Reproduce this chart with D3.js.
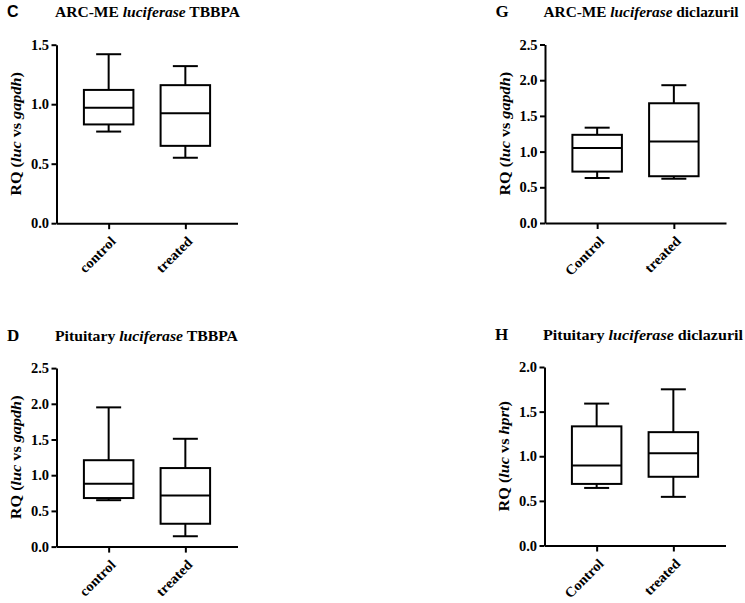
<!DOCTYPE html>
<html><head><meta charset="utf-8">
<script src="https://cdn.jsdelivr.net/npm/d3@7"></script>
<style>
body{margin:0;background:#fff}
svg{display:block;background:#fff}
text{font-family:"Liberation Serif","Times New Roman",serif;font-weight:bold;fill:#000}
</style>
</head><body>
<svg id="chart" width="745" height="603"></svg>
<script>
// ---- data ----
const panelLetters   = ["C", "G", "D", "H"];
const panelTissues   = ["ARC-ME", "ARC-ME", "Pituitary", "Pituitary"];
const panelCompounds = ["TBBPA", "diclazuril", "TBBPA", "diclazuril"];
const refGenes       = ["gapdh", "gapdh", "gapdh", "hprt"];
const categoriesCD   = ["control", "treated"];
const categoriesGH   = ["Control", "treated"];
const panelCategories = [categoriesCD, categoriesGH, categoriesCD, categoriesGH];
const yMaxes   = [1.5, 2.5, 2.5, 2.0];
const yTicks   = [[0, 0.5, 1.0, 1.5], [0, 0.5, 1.0, 1.5, 2.0, 2.5], [0, 0.5, 1.0, 1.5, 2.0, 2.5], [0, 0.5, 1.0, 1.5, 2.0]];
// per panel: [control, treated]
const whiskerLow  = [[0.77, 0.55], [0.63, 0.62], [0.65, 0.145], [0.645, 0.545]];
const quartile1   = [[0.83, 0.65], [0.72, 0.655], [0.68, 0.32], [0.69, 0.77]];
const medians     = [[0.97, 0.925], [1.05, 1.143], [0.88, 0.715], [0.895, 1.035]];
const quartile3   = [[1.12, 1.16], [1.235, 1.677], [1.21, 1.10], [1.335, 1.27]];
const whiskerHigh = [[1.42, 1.32], [1.335, 1.93], [1.95, 1.51], [1.59, 1.75]];

// ---- layout ----
const origins = [[56.5, 44.7], [545, 44.5], [56.5, 368.1], [544.5, 367]];
const titleWidths = [185, 195, 183, 200];
const plotW = 181, plotH = 178.5;
const boxW = 49.5, capW = 25, lw = 2;

const svg = d3.select("#chart");

panelLetters.forEach((letter, i) => {
  const [x0, y0] = origins[i];
  const g = svg.append("g").attr("transform", `translate(${x0},${y0})`);
  const x = d3.scalePoint().domain(panelCategories[i]).range([0, plotW]).padding(0.68);
  const y = d3.scaleLinear().domain([0, yMaxes[i]]).range([plotH, 0]);

  // y axis
  const ya = g.append("g").call(d3.axisLeft(y).tickValues(yTicks[i]).tickFormat(d3.format(".1f")).tickSize(5).tickSizeOuter(0).tickPadding(2.5));
  ya.select(".domain").attr("stroke-width", lw).attr("stroke", "#000");
  ya.selectAll(".tick line").attr("stroke-width", lw).attr("stroke", "#000");
  ya.selectAll(".tick text").style("font-size", "14.5px").style("font-family", "Liberation Serif").style("font-weight", "bold").attr("fill", "#000");

  // x axis
  const xa = g.append("g").attr("transform", `translate(0,${plotH})`)
    .call(d3.axisBottom(x).tickSize(6).tickSizeOuter(0));
  xa.select(".domain").attr("stroke-width", lw).attr("stroke", "#000");
  xa.selectAll(".tick line").attr("stroke-width", lw).attr("stroke", "#000");
  xa.selectAll(".tick text")
    .attr("x", 0).attr("y", 0).attr("dy", 0)
    .attr("transform", "translate(7.5,19) rotate(-45)")
    .style("text-anchor", "end")
    .style("font-size", "14px").style("font-family", "Liberation Serif").style("font-weight", "bold")
    .attr("fill", "#000")
    .each(function () { const t = this; t.setAttribute("textLength", t.getComputedTextLength() * 1.05); t.setAttribute("lengthAdjust", "spacingAndGlyphs"); });

  // boxes
  panelCategories[i].forEach((cat, j) => {
    const cx = x(cat);
    const lo = whiskerLow[i][j], q1 = quartile1[i][j], md = medians[i][j], q3 = quartile3[i][j], hi = whiskerHigh[i][j];
    const bg = g.append("g").attr("stroke", "#000").attr("stroke-width", lw).attr("fill", "none");
    bg.append("line").attr("x1", cx).attr("x2", cx).attr("y1", y(hi)).attr("y2", y(q3));
    bg.append("line").attr("x1", cx).attr("x2", cx).attr("y1", y(q1)).attr("y2", y(lo));
    bg.append("line").attr("x1", cx - capW / 2).attr("x2", cx + capW / 2).attr("y1", y(hi)).attr("y2", y(hi));
    bg.append("line").attr("x1", cx - capW / 2).attr("x2", cx + capW / 2).attr("y1", y(lo)).attr("y2", y(lo));
    bg.append("rect").attr("x", cx - boxW / 2).attr("width", boxW).attr("y", y(q3)).attr("height", y(q1) - y(q3)).attr("fill", "#fff");
    bg.append("line").attr("x1", cx - boxW / 2).attr("x2", cx + boxW / 2).attr("y1", y(md)).attr("y2", y(md));
  });

  // y label
  const yl = g.append("text")
    .attr("transform", `translate(-35.5,${plotH / 2}) rotate(-90)`)
    .attr("text-anchor", "middle")
    .style("font-size", "15px");
  yl.append("tspan").text("RQ (");
  yl.append("tspan").style("font-style", "italic").text("luc");
  yl.append("tspan").text(" vs ");
  yl.append("tspan").style("font-style", "italic").text(refGenes[i]);
  yl.append("tspan").text(")");
  yl.attr("textLength", yl.node().getComputedTextLength() * 1.08).attr("lengthAdjust", "spacingAndGlyphs");

  // title
  const tt = g.append("text").attr("x", -1.5).attr("y", -27.3).style("font-size", "15px");
  tt.append("tspan").text(panelTissues[i] + " ");
  tt.append("tspan").style("font-style", "italic").text("luciferase");
  tt.append("tspan").text(" " + panelCompounds[i]);
  tt.attr("textLength", titleWidths[i]).attr("lengthAdjust", "spacingAndGlyphs");

  // panel letter
  const lt = svg.append("text").attr("x", x0 - 49.5).attr("y", y0 - 27.3).text(letter);
  if (letter === "C") lt.style("font-family", "'Liberation Sans',Arial,sans-serif").style("font-size", "16px");
  else lt.style("font-size", "17px");
});
</script>
</body></html>
